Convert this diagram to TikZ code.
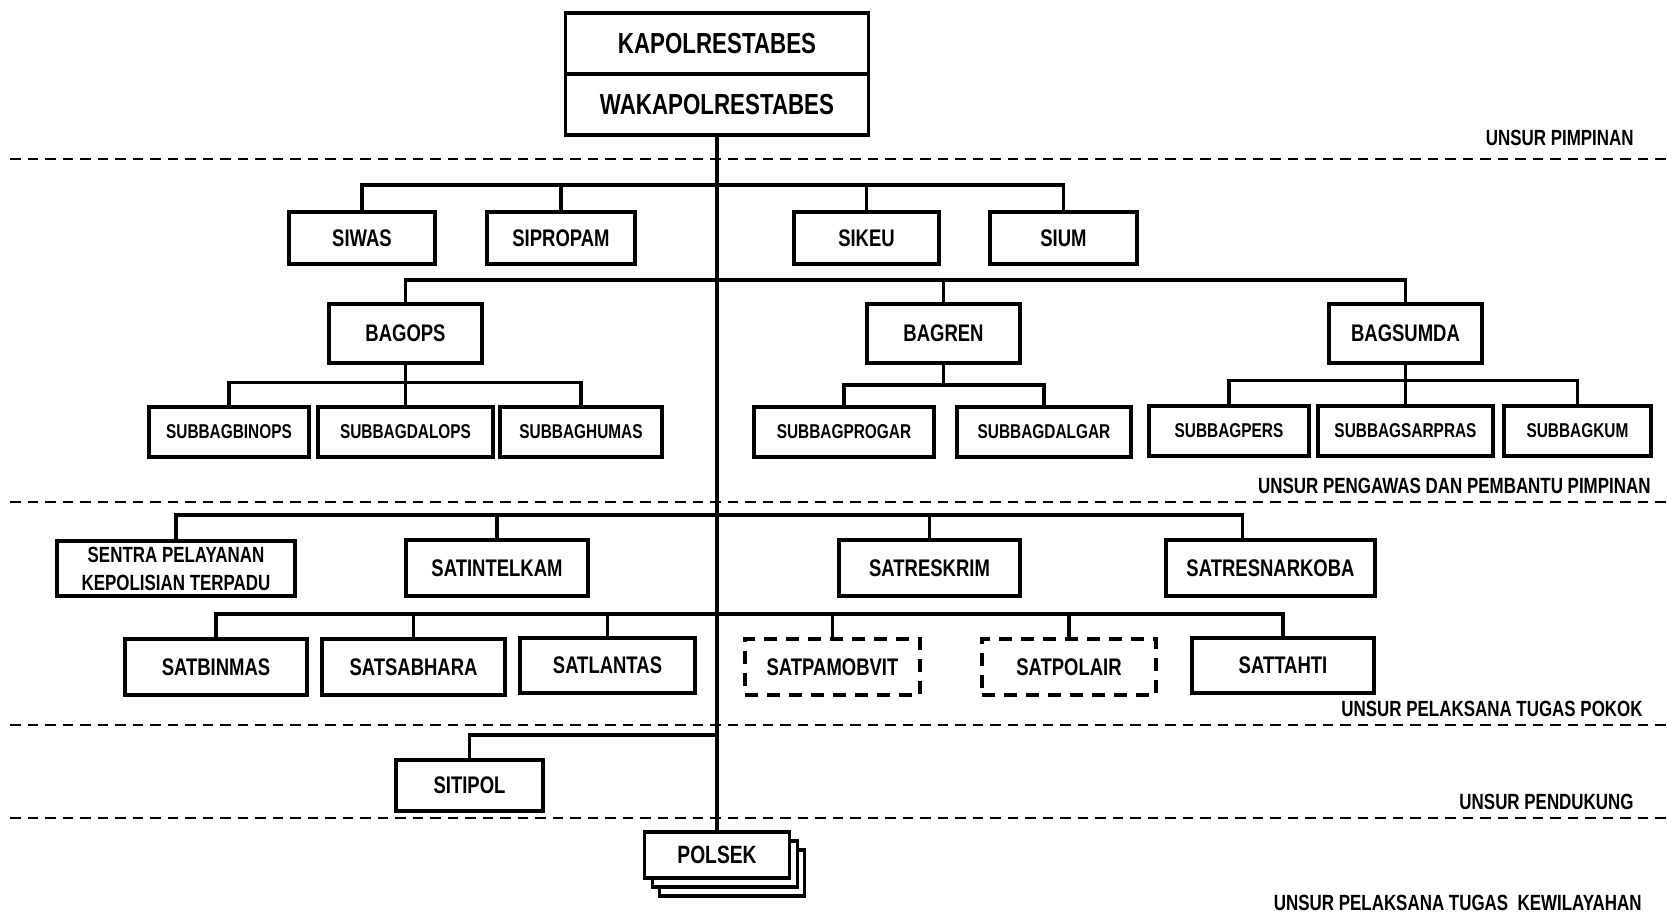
\documentclass[tikz,border=0pt]{standalone}
\usepackage{fontspec}
\setmainfont{Liberation Sans}[FakeStretch=0.77]
\usetikzlibrary{calc}
\tikzset{
  sz/.style 2 args={minimum width=#1*0.5pt, minimum height=#2*0.5pt},
  orgbox/.style={draw, line width=1.7pt, fill=white, inner sep=0pt, align=center,
    font=\bfseries\fontsize{12}{14}\selectfont},
  subbox/.style={orgbox, font=\bfseries\fontsize{10}{12}\selectfont},
  topbox/.style={orgbox, line width=1.8pt, font=\bfseries\fontsize{14.5}{17}\selectfont},
  dashbox/.style={orgbox, dash pattern=on 6.5pt off 4.5pt},
  link/.style={line width=1.6pt},
  sepline/.style={line width=1.3pt, dash pattern=on 5.25pt off 3.5pt},
  zone/.style={anchor=east, inner sep=0pt, font=\bfseries\fontsize{11}{13}\selectfont},
}
\begin{document}
\begin{tikzpicture}[x=0.5pt, y=-0.5pt]
\useasboundingbox (0,0) rectangle (1667,922);

% separators
\draw[sepline] (10,159) -- (1667,159);
\draw[sepline] (10,502) -- (1667,502);
\draw[sepline] (10,725) -- (1667,725);
\draw[sepline] (10,818) -- (1667,818);

% zone labels
\node[zone] (zpimp) at (1634,138) {UNSUR PIMPINAN};
\node[zone] (zpeng) at (1651,486) {UNSUR PENGAWAS DAN PEMBANTU PIMPINAN};
\node[zone] (zpokok) at (1643,709) {UNSUR PELAKSANA TUGAS POKOK};
\node[zone] (zduk) at (1634,802) {UNSUR PENDUKUNG};
\node[zone] (zwil) at (1642,903) {UNSUR PELAKSANA TUGAS\ \ KEWILAYAHAN};

% top
\node[topbox, sz={303}{61}] (kapol) at (717,43.5) {KAPOLRESTABES};
\node[topbox, sz={303}{61}] (wakapol) at (717,104.5) {WAKAPOLRESTABES};

% row 1
\node[orgbox, sz={146}{52}] (siwas) at (362,238) {SIWAS};
\node[orgbox, sz={148}{52}] (sipropam) at (561,238) {SIPROPAM};
\node[orgbox, sz={145}{52}] (sikeu) at (866.5,238) {SIKEU};
\node[orgbox, sz={147}{52}] (sium) at (1063.5,238) {SIUM};

% row 2
\node[orgbox, sz={153}{59}] (bagops) at (405.5,333.5) {BAGOPS};
\node[orgbox, sz={153}{59}] (bagren) at (943.5,333.5) {BAGREN};
\node[orgbox, sz={153}{59}] (bagsumda) at (1405.5,333.5) {BAGSUMDA};

% row 3
\node[subbox, sz={160}{50}] (sbbinops) at (229,432) {SUBBAGBINOPS};
\node[subbox, sz={175}{50}] (sbdalops) at (405.5,432) {SUBBAGDALOPS};
\node[subbox, sz={162}{50}] (sbhumas) at (581,432) {SUBBAGHUMAS};
\node[subbox, sz={180}{50}] (sbprogar) at (844,432) {SUBBAGPROGAR};
\node[subbox, sz={174}{50}] (sbdalgar) at (1044,432) {SUBBAGDALGAR};
\node[subbox, sz={160}{50}] (sbpers) at (1229,431) {SUBBAGPERS};
\node[subbox, sz={175}{50}] (sbsarpras) at (1405.5,431) {SUBBAGSARPRAS};
\node[subbox, sz={147}{50}] (sbkum) at (1577.5,431) {SUBBAGKUM};

% row 4
\node[orgbox, sz={238}{55}, font=\bfseries\fontsize{11}{14}\selectfont] (sentra) at (176,568.5) {SENTRA PELAYANAN\\KEPOLISIAN TERPADU};
\node[orgbox, sz={182}{56}] (satintel) at (497,568) {SATINTELKAM};
\node[orgbox, sz={181}{56}] (satreskrim) at (929.5,568) {SATRESKRIM};
\node[orgbox, sz={209}{56}] (satnarkoba) at (1270.5,568) {SATRESNARKOBA};

% row 5
\node[orgbox, sz={182}{56}] (satbinmas) at (216,667) {SATBINMAS};
\node[orgbox, sz={183}{56}] (satsabhara) at (413.5,667) {SATSABHARA};
\node[orgbox, sz={175}{55}] (satlantas) at (607.5,665.5) {SATLANTAS};
\node[dashbox, sz={175}{56}] (satpam) at (832.5,667) {SATPAMOBVIT};
\node[dashbox, sz={174}{56}] (satpolair) at (1069,667) {SATPOLAIR};
\node[orgbox, sz={182}{55}] (sattahti) at (1283,665.5) {SATTAHTI};

% row 6
\node[orgbox, sz={147}{51}] (sitipol) at (469.5,785.5) {SITIPOL};

% polsek stack
\node[orgbox, sz={145}{46}] (polsekc) at (732,873) {};
\node[orgbox, sz={145}{46}] (polsekb) at (725,864) {};
\node[orgbox, sz={145}{46}, font=\bfseries\fontsize{12.5}{15}\selectfont] (polsek) at (717,855) {POLSEK};

% bus coordinates
\coordinate (bus1) at (717,185);
\coordinate (bus2) at (717,280);
\coordinate (bus3) at (943.5,385);
\coordinate (bus4) at (717,515);
\coordinate (bus5) at (717,614);
\coordinate (bus6) at (717,735);
\coordinate (narkin) at ($(satnarkoba.north west)+(78,0)$);

% spine
\draw[link] (wakapol.south) -- (polsek.north);

% row 1 links
\draw[link] (siwas.north) |- (bus1) -| (sium.north);
\draw[link] (sipropam.north) -- (sipropam.north |- bus1);
\draw[link] (sikeu.north) -- (sikeu.north |- bus1);

% row 2 links
\draw[link] (bagops.north) |- (bus2) -| (bagsumda.north);
\draw[link] (bagren.north) -- (bagren.north |- bus2);

% row 3 links
\draw[link] (bagops.south) -- (sbdalops.north);
\draw[link] (sbbinops.north) -- ++(0,-23) -| (sbhumas.north);
\draw[link] (bagren.south) -- (bus3);
\draw[link] (sbprogar.north) |- (bus3) -| (sbdalgar.north);
\draw[link] (bagsumda.south) -- (sbsarpras.north);
\draw[link] (sbpers.north) -- ++(0,-24) -| (sbkum.north);

% row 4 links
\draw[link] (sentra.north) |- (bus4) -| (narkin);
\draw[link] (satintel.north) -- (satintel.north |- bus4);
\draw[link] (satreskrim.north) -- (satreskrim.north |- bus4);

% row 5 links
\draw[link] (satbinmas.north) |- (bus5) -| (sattahti.north);
\draw[link] (satsabhara.north) -- (satsabhara.north |- bus5);
\draw[link] (satlantas.north) -- (satlantas.north |- bus5);
\draw[link] (satpam.north) -- (satpam.north |- bus5);
\draw[link] (satpolair.north) -- (satpolair.north |- bus5);

% row 6 link
\draw[link] (sitipol.north) |- (bus6);
\end{tikzpicture}
\end{document}
